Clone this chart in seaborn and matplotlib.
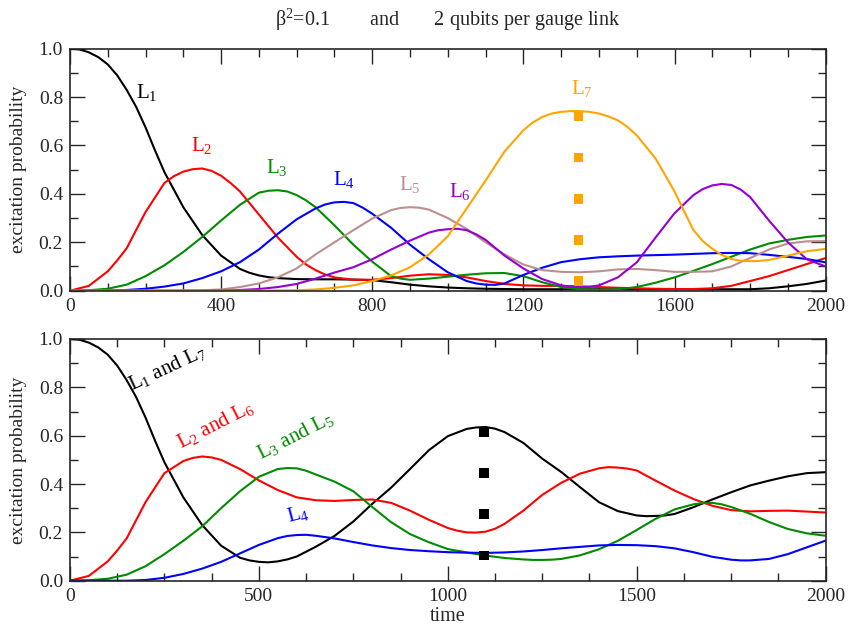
import numpy as np
import matplotlib
matplotlib.use("Agg")
import matplotlib.pyplot as plt
import matplotlib.ticker as mticker
import seaborn as sns

# readings every 50 time units, 0..2000
time = np.arange(0, 2050, 50)

# upper panel: beta^2 = 0.1, 2 qubits per gauge link
top_L1 = [1.0, 0.985, 0.935, 0.83, 0.675, 0.49, 0.345, 0.23, 0.145, 0.09,
          0.063, 0.052, 0.048, 0.047, 0.047, 0.046, 0.044, 0.035, 0.025, 0.018,
          0.013, 0.01, 0.008, 0.007, 0.006, 0.006, 0.006, 0.006, 0.006, 0.006,
          0.006, 0.006, 0.006, 0.006, 0.006, 0.006, 0.006, 0.01, 0.018, 0.028,
          0.042]
top_L2 = [0.0, 0.02, 0.08, 0.175, 0.325, 0.445, 0.492, 0.505, 0.475, 0.41,
          0.315, 0.22, 0.14, 0.085, 0.055, 0.045, 0.045, 0.052, 0.062, 0.068,
          0.065, 0.055, 0.04, 0.028, 0.022, 0.02, 0.02, 0.018, 0.015, 0.012,
          0.01, 0.008, 0.007, 0.007, 0.01, 0.02, 0.04, 0.06, 0.085, 0.11,
          0.135]
top_L3 = [0.0, 0.002, 0.008, 0.025, 0.06, 0.105, 0.16, 0.222, 0.29, 0.355,
          0.405, 0.415, 0.395, 0.345, 0.27, 0.19, 0.12, 0.06, 0.045, 0.05,
          0.058, 0.066, 0.072, 0.073, 0.06, 0.035, 0.015, 0.006, 0.004, 0.006,
          0.015, 0.033, 0.055, 0.082, 0.11, 0.14, 0.17, 0.195, 0.21, 0.222,
          0.228]
top_L4 = [0.0, 0.0, 0.001, 0.003, 0.008, 0.017, 0.03, 0.052, 0.08, 0.118,
          0.17, 0.235, 0.295, 0.34, 0.365, 0.362, 0.318, 0.26, 0.19, 0.13,
          0.076, 0.04, 0.025, 0.03, 0.065, 0.095, 0.118, 0.13, 0.138, 0.142,
          0.145, 0.147, 0.149, 0.152, 0.155, 0.156, 0.155, 0.148, 0.14, 0.131,
          0.117]
top_L5 = [0.0, 0.0, 0.0, 0.0, 0.0, 0.0, 0.001, 0.002, 0.005, 0.015,
          0.03, 0.055, 0.092, 0.15, 0.2, 0.25, 0.298, 0.333, 0.345, 0.335,
          0.30, 0.255, 0.2, 0.15, 0.108, 0.085, 0.078, 0.076, 0.08, 0.088,
          0.09, 0.085, 0.078, 0.078, 0.08, 0.1, 0.135, 0.17, 0.195, 0.204,
          0.205]
top_L6 = [0.0, 0.0, 0.0, 0.0, 0.0, 0.0, 0.0, 0.0, 0.001, 0.003,
          0.007, 0.015, 0.028, 0.05, 0.075, 0.097, 0.13, 0.17, 0.207, 0.24,
          0.254, 0.25, 0.21, 0.145, 0.092, 0.048, 0.022, 0.015, 0.022, 0.055,
          0.117, 0.22, 0.32, 0.395, 0.435, 0.437, 0.387, 0.29, 0.2, 0.13,
          0.1]
top_L7 = [0.0, 0.0, 0.0, 0.0, 0.0, 0.0, 0.0, 0.0, 0.0, 0.0,
          0.0, 0.001, 0.002, 0.005, 0.012, 0.022, 0.04, 0.063, 0.097, 0.15,
          0.225, 0.34, 0.455, 0.575, 0.663, 0.718, 0.739, 0.742, 0.732, 0.704,
          0.642, 0.546, 0.41, 0.25, 0.173, 0.131, 0.122, 0.127, 0.145, 0.163,
          0.173]
top_mark_t = 1346
top_mark_y = [0.72, 0.55, 0.38, 0.21, 0.04]

# lower panel: links that behave the same
bot_L17 = [1.0, 0.985, 0.935, 0.83, 0.675, 0.49, 0.345, 0.23, 0.145, 0.095,
           0.078, 0.08, 0.1, 0.14, 0.185, 0.245, 0.318, 0.385, 0.462, 0.54,
           0.598, 0.628, 0.636, 0.615, 0.57, 0.505, 0.45, 0.387, 0.325, 0.288,
           0.27, 0.268, 0.276, 0.304, 0.336, 0.366, 0.394, 0.414, 0.432, 0.445,
           0.449]
bot_L26 = [0.0, 0.02, 0.08, 0.175, 0.325, 0.445, 0.495, 0.514, 0.5, 0.462,
           0.415, 0.375, 0.345, 0.333, 0.33, 0.334, 0.336, 0.322, 0.29, 0.252,
           0.218, 0.2, 0.203, 0.235, 0.29, 0.355, 0.405, 0.443, 0.465, 0.468,
           0.456, 0.414, 0.373, 0.338, 0.31, 0.292, 0.287, 0.289, 0.29, 0.286,
           0.282]
bot_L35 = [0.0, 0.002, 0.008, 0.025, 0.06, 0.11, 0.165, 0.225, 0.3, 0.37,
           0.43, 0.462, 0.465, 0.44, 0.41, 0.37, 0.305, 0.242, 0.193, 0.159,
           0.131, 0.117, 0.104, 0.094, 0.088, 0.086, 0.09, 0.105, 0.13, 0.165,
           0.21, 0.256, 0.295, 0.316, 0.322, 0.305, 0.277, 0.243, 0.214, 0.196,
           0.186]
bot_L4 = [0.0, 0.0, 0.0, 0.0, 0.003, 0.012, 0.028, 0.05, 0.078, 0.113,
          0.148, 0.176, 0.189, 0.186, 0.175, 0.16, 0.146, 0.135, 0.127, 0.122,
          0.118, 0.116, 0.115, 0.117, 0.121, 0.127, 0.134, 0.14, 0.146, 0.148,
          0.147, 0.143, 0.134, 0.118, 0.099, 0.087, 0.084, 0.09, 0.11, 0.138,
          0.166]
bot_mark_t = 1096
bot_mark_y = [0.615, 0.445, 0.276, 0.105]

# extra readings where the curves bend sharply (time, value)
top_L1_x = [(25, 0.997), (75, 0.965), (125, 0.89), (175, 0.76), (225, 0.58),
            (475, 0.074), (525, 0.056)]
top_L2_x = [(125, 0.125), (175, 0.25), (275, 0.473), (325, 0.502),
            (375, 0.495), (425, 0.445), (625, 0.108), (675, 0.067)]
top_L3_x = [(525, 0.413), (575, 0.41), (625, 0.373), (875, 0.05)]
top_L4_x = [(675, 0.356), (725, 0.367), (775, 0.343), (1075, 0.03),
            (1125, 0.024)]
top_L5_x = [(875, 0.342), (925, 0.343)]
top_L6_x = [(975, 0.25), (1025, 0.256), (1075, 0.233), (1325, 0.016),
            (1375, 0.016), (1675, 0.42), (1725, 0.441), (1775, 0.418)]
top_L7_x = [(1225, 0.695), (1275, 0.732), (1325, 0.742), (1375, 0.739),
            (1425, 0.72), (1475, 0.677), (1675, 0.205), (1725, 0.148),
            (1775, 0.124), (1825, 0.123)]
bot_L17_x = [(25, 0.997), (75, 0.965), (125, 0.89), (175, 0.76), (225, 0.58),
             (475, 0.084), (525, 0.076), (575, 0.088), (1075, 0.634),
             (1125, 0.629), (1525, 0.267), (1575, 0.27)]
bot_L26_x = [(125, 0.125), (175, 0.25), (325, 0.508), (375, 0.51),
             (1025, 0.207), (1075, 0.199), (1125, 0.215), (1425, 0.47),
             (1475, 0.464)]
bot_L35_x = [(575, 0.466), (625, 0.455), (1225, 0.086), (1275, 0.087),
             (1675, 0.321), (1725, 0.316)]
bot_L4_x = [(575, 0.185), (625, 0.19), (1775, 0.084)]

BLACK, RED, GREEN, BLUE = "black", "#ff0000", "#008b00", "#0000ff"
BROWN, VIOLET, ORANGE = "#bc8f8f", "#9400d3", "#ffa500"

sns.set_style("ticks")
plt.rcParams["font.family"] = ["Liberation Serif", "DejaVu Serif"]
plt.rcParams["mathtext.default"] = "regular"

fig = plt.figure(figsize=(8.49, 6.28), dpi=100)
ax1 = fig.add_axes([0.0824, 0.5371, 0.8901, 0.3854])
ax2 = fig.add_axes([0.0824, 0.0753, 0.8901, 0.3849])


def draw(ax, vals, extra, color):
    xs = list(time) + [p[0] for p in extra]
    ys = list(vals) + [p[1] for p in extra]
    sns.lineplot(x=xs, y=ys, color=color, linewidth=1.5, ax=ax)


top_series = [(top_L1, top_L1_x, BLACK), (top_L2, top_L2_x, RED),
              (top_L3, top_L3_x, GREEN), (top_L4, top_L4_x, BLUE),
              (top_L5, top_L5_x, BROWN), (top_L6, top_L6_x, VIOLET),
              (top_L7, top_L7_x, ORANGE)]
for vals, extra, c in top_series:
    draw(ax1, vals, extra, c)
sns.scatterplot(x=[top_mark_t] * len(top_mark_y), y=top_mark_y, marker="s",
                s=48, color=ORANGE, edgecolor="none", ax=ax1, zorder=5)

bot_series = [(bot_L17, bot_L17_x, BLACK), (bot_L26, bot_L26_x, RED),
              (bot_L35, bot_L35_x, GREEN), (bot_L4, bot_L4_x, BLUE)]
for vals, extra, c in bot_series:
    draw(ax2, vals, extra, c)
sns.scatterplot(x=[bot_mark_t] * len(bot_mark_y), y=bot_mark_y, marker="s",
                s=48, color=BLACK, edgecolor="none", ax=ax2, zorder=5)

# curve names
top_labels = [("L$_1$", 175, 0.797, BLACK), ("L$_2$", 320, 0.576, RED),
              ("L$_3$", 519, 0.488, GREEN), ("L$_4$", 695, 0.438, BLUE),
              ("L$_5$", 872, 0.417, BROWN), ("L$_6$", 1002, 0.389, VIOLET),
              ("L$_7$", 1325, 0.811, ORANGE)]
for s, x, y, c in top_labels:
    ax1.text(x, y, s, color=c, fontsize=15, ha="left", va="baseline")

bot_labels = [("L$_1$ and L$_7$", 163, 0.787, BLACK, 25),
              ("L$_2$ and L$_6$", 294, 0.548, RED, 27),
              ("L$_3$ and L$_5$", 506, 0.503, GREEN, 27),
              ("L$_4$", 579, 0.244, BLUE, 15)]
for s, x, y, c, r in bot_labels:
    ax2.text(x, y, s, color=c, fontsize=15, ha="left", va="baseline",
             rotation=r, rotation_mode="anchor")

for ax, major, minor in [(ax1, 400, 100), (ax2, 500, 125)]:
    ax.set_xlim(0, 2000)
    ax.set_ylim(0, 1)
    ax.xaxis.set_major_locator(mticker.MultipleLocator(major))
    ax.xaxis.set_minor_locator(mticker.MultipleLocator(minor))
    ax.yaxis.set_major_locator(mticker.MultipleLocator(0.2))
    ax.yaxis.set_minor_locator(mticker.MultipleLocator(0.1))
    ax.yaxis.set_major_formatter(mticker.FormatStrFormatter("%.1f"))
    ax.tick_params(which="both", direction="in", top=True, right=True,
                   width=1.0, labelsize=14, pad=5)
    ax.tick_params(which="major", length=10.5)
    ax.tick_params(which="minor", length=5.5)
    for sp in ax.spines.values():
        sp.set_linewidth(1.2)
    ax.set_ylabel("excitation probability", fontsize=14)
    ax.yaxis.set_label_coords(-0.057, 0.5)
    ax.set_xlabel("")

ax2.set_xlabel("time", fontsize=14.5)
ax2.xaxis.set_label_coords(0.5, -0.11)

fig.text(0.5275, 0.968,
         "β$^2$=0.1        and       2 qubits per gauge link",
         ha="center", va="center", fontsize=14.5)

fig.savefig("out.png", dpi=100)
